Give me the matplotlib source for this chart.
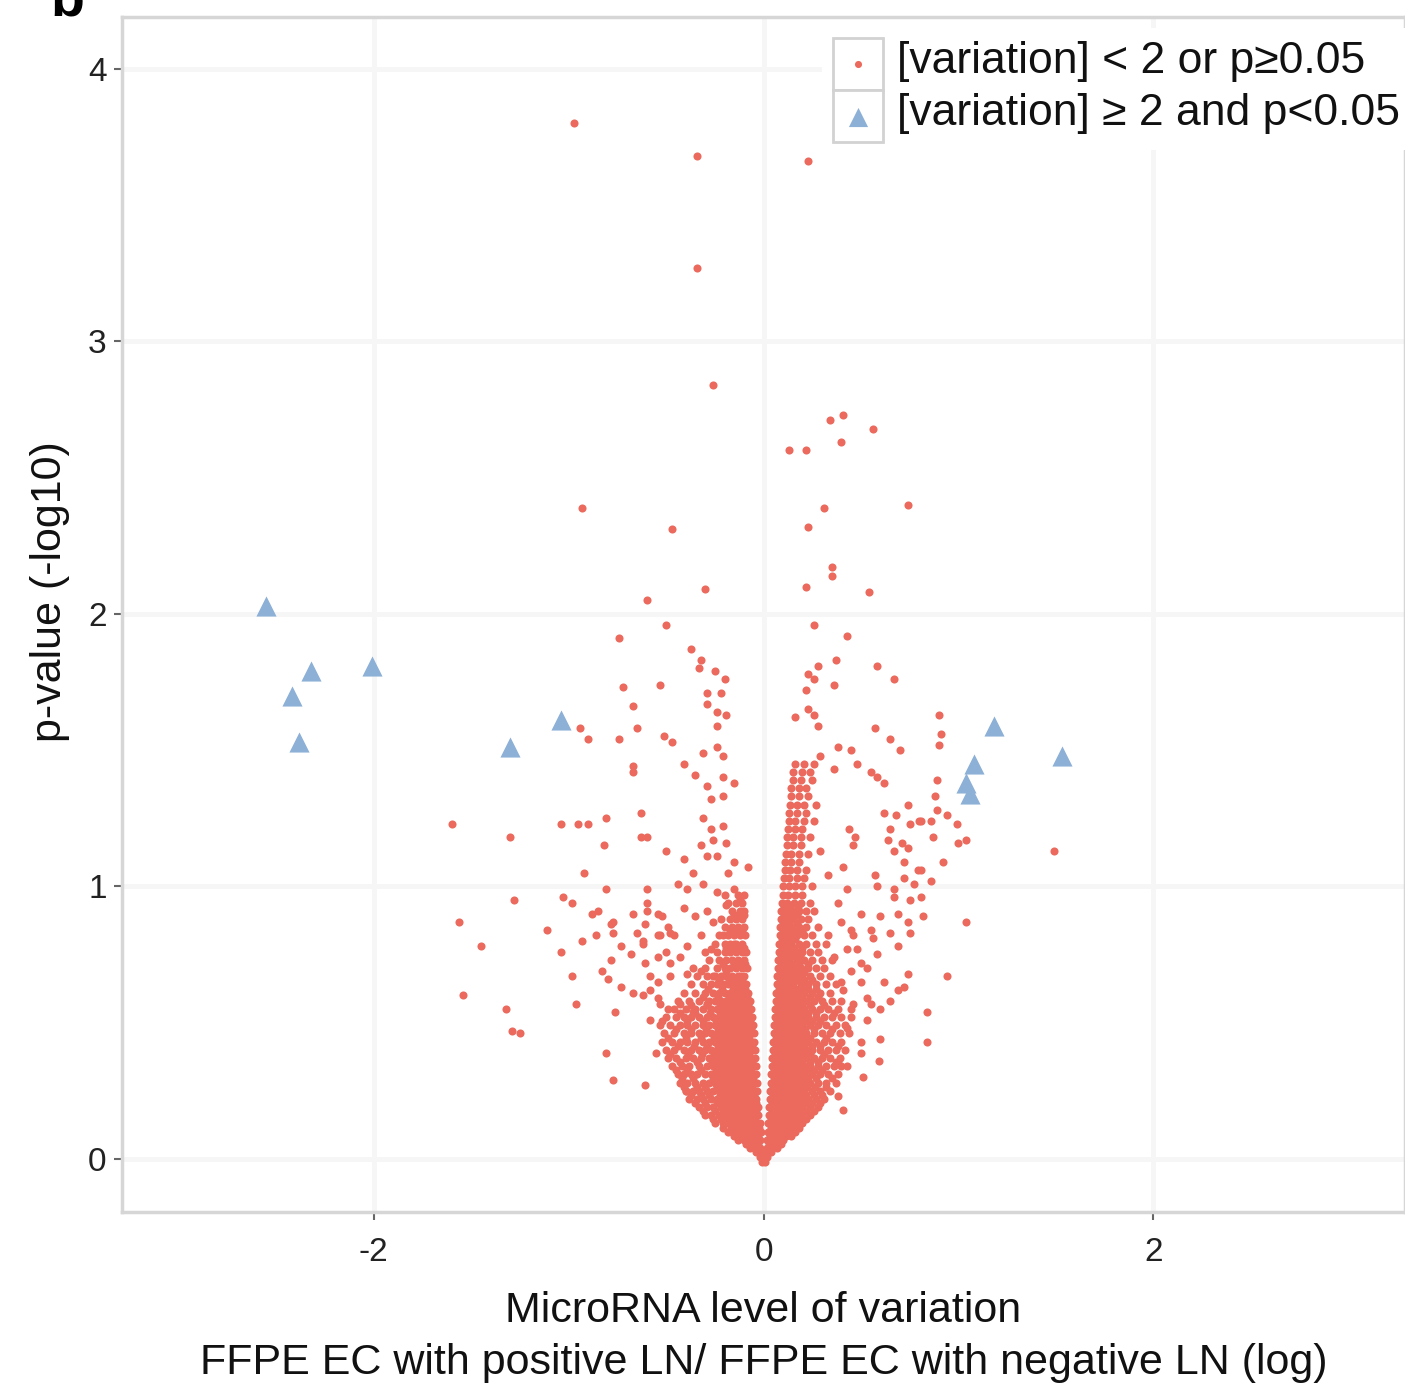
"volcano plot: FFPE EC LN+ vs LN-"
import matplotlib
matplotlib.use('Agg')
from matplotlib import pyplot as plt
from matplotlib.patches import Rectangle

plt.rcParams['font.family'] = ['Liberation Sans', 'DejaVu Sans']
plt.rcParams['axes.unicode_minus'] = False

# significant miRNAs (|variation| >= 2 and p < 0.05)
sig_x = [-2.55, -2.32, -2.42, -2.38, -2.01, -1.30, -1.04, 1.18, 1.08, 1.04, 1.06, 1.53]
sig_y = [2.03, 1.79, 1.70, 1.53, 1.81, 1.51, 1.61, 1.59, 1.45, 1.38, 1.34, 1.48]

# scattered non-significant miRNAs, read point by point
red_scatter = [
    (-0.97, 3.80), (-0.34, 3.68), (0.23, 3.66), (-0.34, 3.27), (-0.26, 2.84),
    (0.34, 2.71), (0.41, 2.73), (0.56, 2.68), (0.40, 2.63), (0.13, 2.60), (0.22, 2.60),
    (-0.93, 2.39), (-0.47, 2.31), (0.31, 2.39), (0.74, 2.40), (0.23, 2.32),
    (0.35, 2.17), (0.35, 2.14), (0.22, 2.10), (0.54, 2.08), (-0.30, 2.09), (-0.60, 2.05),
    (-0.50, 1.96), (-0.74, 1.91), (0.26, 1.96), (0.43, 1.92), (-0.37, 1.87), (-0.32, 1.83),
    (-0.33, 1.80), (-0.25, 1.79), (-0.20, 1.76), (-0.22, 1.71), (-0.29, 1.71), (-0.29, 1.67),
    (-0.24, 1.64), (-0.19, 1.63), (-0.24, 1.59), (-0.72, 1.73), (-0.53, 1.74), (-0.67, 1.66),
    (-0.65, 1.58), (-0.94, 1.58), (-0.90, 1.54), (-0.74, 1.54), (-0.51, 1.55), (-0.47, 1.53),
    (-0.31, 1.49), (-0.24, 1.51), (-0.21, 1.48), (-0.41, 1.45), (-0.67, 1.44),
    (0.37, 1.83), (0.28, 1.81), (0.23, 1.78), (0.26, 1.76), (0.22, 1.72), (0.36, 1.74),
    (0.58, 1.81), (0.67, 1.76), (0.16, 1.62), (0.23, 1.65), (0.26, 1.63), (0.28, 1.59),
    (0.57, 1.58), (0.65, 1.54), (0.70, 1.50), (0.90, 1.63), (0.91, 1.56), (0.90, 1.52),
    (0.38, 1.51), (0.45, 1.50), (0.29, 1.48), (0.48, 1.45),
    (1.49, 1.13), (1.04, 0.87), (0.94, 0.67), (0.84, 0.54), (0.84, 0.43), (0.60, 0.44),
    (0.59, 0.36), (0.51, 0.30), (0.50, 0.39), (0.89, 1.39), (0.88, 1.33),
    (0.55, 1.42), (0.58, 1.40), (0.62, 1.38), (0.74, 1.30), (0.62, 1.27), (0.68, 1.26),
    (0.65, 1.21), (0.75, 1.23), (0.81, 1.24), (0.86, 1.24), (0.89, 1.28), (0.94, 1.26),
    (0.99, 1.23), (0.44, 1.21), (0.47, 1.18), (0.64, 1.17), (0.71, 1.16), (0.74, 1.14),
    (0.67, 1.13), (0.87, 1.18), (1.00, 1.16), (1.04, 1.17), (0.92, 1.09), (0.72, 1.09),
    (0.41, 1.07), (0.81, 1.06), (0.57, 1.04), (0.72, 1.03), (0.77, 1.01), (0.86, 1.02),
    (0.58, 1.00), (0.43, 0.99), (0.67, 0.96), (0.81, 0.96), (0.50, 0.90), (0.60, 0.89),
    (0.69, 0.90), (0.82, 0.89), (0.74, 0.87), (0.45, 0.84), (0.56, 0.81), (0.65, 0.83),
    (0.75, 0.83), (0.69, 0.78), (0.48, 0.77), (0.58, 0.75), (0.45, 0.69), (0.53, 0.70),
    (0.74, 0.68), (0.72, 0.63), (0.62, 0.65), (0.50, 0.65), (0.41, 0.62), (0.53, 0.59),
    (0.65, 0.58), (0.45, 0.55), (0.53, 0.51), (0.43, 0.48), (0.50, 0.43),
    (0.26, 1.45), (0.36, 1.43), (0.80, 1.24), (0.46, 1.15), (0.33, 1.04), (0.29, 1.13),
    (0.38, 0.94), (0.67, 0.99), (0.79, 1.06), (0.75, 0.95), (0.55, 0.84), (0.46, 0.82),
    (0.40, 0.87), (0.33, 0.82), (0.43, 0.77), (0.36, 0.74), (0.50, 0.72), (0.69, 0.62),
    (0.40, 0.65), (0.46, 0.57), (0.55, 0.57), (0.60, 0.55), (0.41, 0.18), (0.38, 0.23),
    (0.43, 0.34), (0.38, 0.35),
    (-1.60, 1.23), (-1.30, 1.18), (-1.04, 1.23), (-0.95, 1.23), (-0.90, 1.23), (-0.81, 1.25),
    (-0.67, 1.42), (-0.63, 1.27), (-0.63, 1.18), (-0.60, 1.18), (-0.82, 1.15), (-0.50, 1.13),
    (-0.92, 1.05), (-0.81, 0.99), (-0.60, 0.99), (-1.28, 0.95), (-1.03, 0.96), (-0.98, 0.94),
    (-0.88, 0.90), (-0.85, 0.91), (-1.56, 0.87), (-1.11, 0.84), (-0.86, 0.82), (-0.93, 0.80),
    (-1.45, 0.78), (-1.04, 0.76), (-0.78, 0.86), (-0.77, 0.83), (-0.73, 0.78), (-0.68, 0.75),
    (-0.78, 0.73), (-0.67, 0.90), (-0.60, 0.91), (-0.61, 0.86), (-0.65, 0.83), (-0.62, 0.79),
    (-0.52, 0.89), (-0.48, 0.83), (-0.53, 0.82), (-0.50, 0.76), (-0.98, 0.67), (-0.83, 0.69),
    (-0.80, 0.66), (-0.73, 0.63), (-0.67, 0.61), (-0.62, 0.60), (-0.58, 0.67), (-0.54, 0.65),
    (-1.54, 0.60), (-0.96, 0.57), (-0.76, 0.54), (-1.32, 0.55), (-1.29, 0.47), (-1.25, 0.46),
    (-0.81, 0.39), (-0.77, 0.29), (-0.61, 0.27), (-0.55, 0.39), (-0.58, 0.51), (-0.53, 0.57),
    (-0.35, 1.41), (-0.29, 1.37), (-0.21, 1.40), (-0.15, 1.38), (-0.27, 1.32), (-0.21, 1.33),
    (-0.31, 1.25), (-0.27, 1.21), (-0.21, 1.22), (-0.32, 1.15), (-0.26, 1.17), (-0.19, 1.16),
    (-0.29, 1.11), (-0.41, 1.10), (-0.24, 1.11), (-0.15, 1.09), (-0.08, 1.07), (-0.36, 1.05),
    (-0.18, 1.05), (-0.44, 1.01), (-0.39, 0.99), (-0.31, 1.01), (-0.24, 0.98), (-0.15, 0.99),
    (-0.12, 0.95), (-0.77, 0.87), (-0.60, 0.94), (-0.54, 0.90), (-0.49, 0.85), (-0.41, 0.92),
    (-0.35, 0.89), (-0.29, 0.91), (-0.26, 0.87), (-0.19, 0.93), (-0.13, 0.89), (-0.62, 0.80),
    (-0.54, 0.82), (-0.46, 0.82), (-0.39, 0.78), (-0.32, 0.82), (-0.27, 0.77), (-0.21, 0.82),
    (-0.15, 0.79), (-0.61, 0.72), (-0.54, 0.74), (-0.48, 0.72), (-0.43, 0.74), (-0.58, 0.62),
    (-0.48, 0.67), (-0.39, 0.68), (-0.32, 0.69), (-0.26, 0.67), (-0.19, 0.69), (-0.12, 0.67),
    (-0.54, 0.59), (-0.49, 0.55), (-0.43, 0.57), (-0.36, 0.54), (-0.29, 0.57), (-0.22, 0.55),
    (-0.15, 0.57), (-0.09, 0.56), (-0.40, 0.25),
]

# dense V core, read row by row: (p-value row, variation values)
left_arm_rows = [
    (-0.01, [-0.01, 0.01]),
    (0.005, [-0.02, 0.0, 0.02]),
    (0.025, [-0.04, -0.02, 0.0]),
    (0.04, [-0.07, -0.045, -0.02]),
    (0.07, [-0.13, -0.10, -0.07, -0.045, -0.02]),
    (0.10, [-0.18, -0.15, -0.12, -0.09, -0.06, -0.035, -0.015]),
    (0.13, [-0.25, -0.21, -0.18, -0.15, -0.12, -0.09, -0.06, -0.04, -0.02]),
    (0.16, [-0.30, -0.27, -0.23, -0.20, -0.17, -0.14, -0.11, -0.08, -0.055, -0.03]),
    (0.19, [-0.33, -0.29, -0.26, -0.22, -0.19, -0.16, -0.13, -0.10, -0.075, -0.05, -0.03]),
    (0.22, [-0.38, -0.34, -0.31, -0.27, -0.24, -0.21, -0.18, -0.15, -0.12, -0.09, -0.065, -0.04]),
    (0.25, [-0.40, -0.36, -0.33, -0.29, -0.26, -0.23, -0.20, -0.17, -0.14, -0.11, -0.08, -0.055, -0.035]),
    (0.28, [-0.43, -0.39, -0.35, -0.31, -0.28, -0.25, -0.22, -0.19, -0.16, -0.13, -0.10, -0.075, -0.05, -0.035]),
    (0.31, [-0.44, -0.41, -0.37, -0.34, -0.30, -0.27, -0.24, -0.21, -0.18, -0.15, -0.12, -0.09, -0.065, -0.04]),
    (0.34, [-0.47, -0.42, -0.38, -0.33, -0.29, -0.26, -0.23, -0.20, -0.17, -0.14, -0.11, -0.08, -0.055, -0.04]),
    (0.37, [-0.49, -0.45, -0.40, -0.36, -0.32, -0.28, -0.25, -0.22, -0.19, -0.16, -0.13, -0.10, -0.07, -0.045]),
    (0.40, [-0.50, -0.46, -0.41, -0.37, -0.33, -0.30, -0.27, -0.24, -0.21, -0.18, -0.15, -0.12, -0.09, -0.06, -0.045]),
    (0.43, [-0.52, -0.47, -0.43, -0.39, -0.35, -0.31, -0.28, -0.25, -0.22, -0.19, -0.16, -0.13, -0.10, -0.075, -0.05]),
    (0.46, [-0.51, -0.46, -0.41, -0.37, -0.33, -0.30, -0.27, -0.24, -0.21, -0.18, -0.15, -0.12, -0.09, -0.065, -0.05]),
    (0.49, [-0.53, -0.48, -0.43, -0.39, -0.35, -0.31, -0.28, -0.25, -0.22, -0.19, -0.16, -0.13, -0.10, -0.075, -0.055]),
    (0.52, [-0.50, -0.45, -0.41, -0.37, -0.33, -0.29, -0.26, -0.23, -0.20, -0.17, -0.14, -0.11, -0.085, -0.06]),
    (0.55, [-0.46, -0.40, -0.35, -0.31, -0.27, -0.24, -0.21, -0.18, -0.15, -0.12, -0.09, -0.065]),
    (0.58, [-0.44, -0.38, -0.33, -0.28, -0.25, -0.22, -0.19, -0.16, -0.13, -0.10, -0.07]),
    (0.61, [-0.41, -0.35, -0.30, -0.26, -0.23, -0.20, -0.17, -0.14, -0.11, -0.08]),
    (0.64, [-0.37, -0.31, -0.27, -0.24, -0.21, -0.18, -0.15, -0.12, -0.09]),
    (0.67, [-0.34, -0.29, -0.25, -0.22, -0.19, -0.16, -0.13, -0.10]),
    (0.70, [-0.36, -0.30, -0.24, -0.20, -0.17, -0.14, -0.11, -0.085]),
    (0.73, [-0.28, -0.23, -0.19, -0.16, -0.13, -0.10]),
    (0.76, [-0.30, -0.24, -0.20, -0.17, -0.14, -0.11, -0.09]),
    (0.79, [-0.25, -0.20, -0.17, -0.14, -0.11]),
    (0.82, [-0.23, -0.18, -0.15, -0.12, -0.095]),
    (0.85, [-0.20, -0.16, -0.13, -0.10]),
    (0.88, [-0.22, -0.17, -0.14, -0.11]),
    (0.91, [-0.16, -0.12, -0.10]),
    (0.94, [-0.18, -0.14, -0.11]),
    (0.97, [-0.20, -0.13, -0.10]),
]

# rows lying between the ones above (the core is nearly solid)
left_fill_rows = [
    (0.055, [-0.09, -0.06, -0.03]),
    (0.085, [-0.15, -0.115, -0.085, -0.055, -0.03]),
    (0.115, [-0.21, -0.165, -0.135, -0.105, -0.075, -0.05, -0.025]),
    (0.145, [-0.26, -0.22, -0.19, -0.16, -0.13, -0.10, -0.07, -0.045]),
    (0.175, [-0.31, -0.25, -0.21, -0.18, -0.15, -0.12, -0.09, -0.065, -0.04]),
    (0.205, [-0.35, -0.30, -0.24, -0.205, -0.175, -0.145, -0.115, -0.085, -0.06, -0.04]),
    (0.235, [-0.37, -0.32, -0.28, -0.225, -0.195, -0.165, -0.135, -0.105, -0.075, -0.05]),
    (0.265, [-0.41, -0.34, -0.30, -0.24, -0.205, -0.175, -0.145, -0.115, -0.09, -0.06]),
    (0.295, [-0.42, -0.36, -0.26, -0.225, -0.195, -0.165, -0.135, -0.105, -0.08, -0.055]),
    (0.325, [-0.45, -0.39, -0.32, -0.245, -0.215, -0.185, -0.155, -0.125, -0.095, -0.065]),
    (0.355, [-0.43, -0.34, -0.265, -0.235, -0.205, -0.175, -0.145, -0.115, -0.085, -0.06]),
    (0.385, [-0.48, -0.385, -0.315, -0.255, -0.225, -0.195, -0.165, -0.135, -0.105, -0.075]),
    (0.415, [-0.44, -0.355, -0.29, -0.235, -0.205, -0.175, -0.145, -0.115, -0.085, -0.06]),
    (0.445, [-0.49, -0.40, -0.32, -0.255, -0.225, -0.195, -0.165, -0.135, -0.105, -0.075]),
    (0.475, [-0.45, -0.37, -0.295, -0.235, -0.205, -0.175, -0.145, -0.115, -0.09, -0.065]),
    (0.505, [-0.52, -0.39, -0.31, -0.245, -0.215, -0.185, -0.155, -0.125, -0.095, -0.07]),
    (0.535, [-0.43, -0.35, -0.275, -0.225, -0.195, -0.165, -0.135, -0.105, -0.08]),
    (0.565, [-0.37, -0.29, -0.225, -0.195, -0.165, -0.135, -0.105, -0.08]),
    (0.595, [-0.31, -0.235, -0.175, -0.145, -0.115, -0.085]),
    (0.625, [-0.285, -0.215, -0.155, -0.125, -0.095]),
    (0.655, [-0.23, -0.175, -0.14, -0.11]),
    (0.715, [-0.21, -0.15, -0.12, -0.095]),
    (0.775, [-0.19, -0.155, -0.125, -0.10]),
    (0.835, [-0.17, -0.14, -0.11]),
    (0.895, [-0.15, -0.125, -0.10]),
]

right_arm_rows = [
    (0.025, [0.02, 0.04]),
    (0.04, [0.02, 0.045, 0.07]),
    (0.07, [0.02, 0.045, 0.07, 0.10]),
    (0.10, [0.025, 0.05, 0.075, 0.10, 0.13, 0.16]),
    (0.13, [0.025, 0.05, 0.075, 0.10, 0.13, 0.16, 0.20]),
    (0.16, [0.03, 0.055, 0.08, 0.11, 0.14, 0.17, 0.20, 0.24]),
    (0.19, [0.03, 0.055, 0.08, 0.11, 0.14, 0.17, 0.20, 0.24, 0.28]),
    (0.22, [0.035, 0.06, 0.085, 0.11, 0.14, 0.17, 0.20, 0.23, 0.27, 0.31]),
    (0.25, [0.035, 0.06, 0.09, 0.12, 0.15, 0.18, 0.21, 0.25, 0.29, 0.34]),
    (0.28, [0.04, 0.065, 0.09, 0.12, 0.15, 0.18, 0.21, 0.24, 0.28, 0.32, 0.37]),
    (0.31, [0.04, 0.065, 0.09, 0.12, 0.15, 0.18, 0.21, 0.25, 0.29, 0.33, 0.38]),
    (0.34, [0.045, 0.07, 0.095, 0.12, 0.15, 0.18, 0.21, 0.24, 0.28, 0.32, 0.36, 0.40]),
    (0.37, [0.045, 0.07, 0.10, 0.13, 0.16, 0.19, 0.22, 0.26, 0.30, 0.34, 0.39]),
    (0.40, [0.05, 0.075, 0.10, 0.13, 0.16, 0.19, 0.22, 0.25, 0.29, 0.33, 0.37, 0.42]),
    (0.43, [0.05, 0.075, 0.10, 0.13, 0.16, 0.19, 0.23, 0.27, 0.31, 0.35, 0.40]),
    (0.46, [0.055, 0.08, 0.105, 0.13, 0.16, 0.19, 0.22, 0.26, 0.30, 0.34, 0.39, 0.44]),
    (0.49, [0.055, 0.08, 0.11, 0.14, 0.17, 0.20, 0.24, 0.28, 0.32, 0.37, 0.42]),
    (0.52, [0.06, 0.085, 0.11, 0.14, 0.17, 0.20, 0.23, 0.27, 0.31, 0.35, 0.40, 0.45]),
    (0.55, [0.06, 0.085, 0.11, 0.14, 0.17, 0.21, 0.25, 0.29, 0.33, 0.38]),
    (0.58, [0.065, 0.09, 0.12, 0.15, 0.18, 0.22, 0.26, 0.30, 0.35, 0.40]),
    (0.61, [0.065, 0.09, 0.12, 0.15, 0.18, 0.21, 0.25, 0.29, 0.34]),
    (0.64, [0.07, 0.095, 0.12, 0.15, 0.19, 0.23, 0.27, 0.32, 0.37]),
    (0.67, [0.07, 0.095, 0.125, 0.16, 0.20, 0.24, 0.29, 0.34]),
    (0.70, [0.075, 0.10, 0.13, 0.16, 0.19, 0.23, 0.27, 0.31]),
    (0.73, [0.075, 0.10, 0.13, 0.17, 0.21, 0.25, 0.30, 0.35]),
    (0.76, [0.08, 0.105, 0.135, 0.17, 0.20, 0.24, 0.28]),
    (0.79, [0.08, 0.105, 0.14, 0.18, 0.22, 0.27, 0.32]),
    (0.82, [0.085, 0.11, 0.14, 0.17, 0.21, 0.25]),
    (0.85, [0.085, 0.11, 0.145, 0.18, 0.22, 0.28]),
    (0.88, [0.09, 0.115, 0.15, 0.19, 0.23]),
    (0.91, [0.09, 0.12, 0.15, 0.18, 0.22, 0.26]),
    (0.94, [0.095, 0.12, 0.155, 0.19, 0.24]),
    (0.97, [0.10, 0.125, 0.16, 0.20]),
    (1.00, [0.10, 0.13, 0.16, 0.20, 0.25]),
    (1.03, [0.105, 0.13, 0.17, 0.21]),
    (1.06, [0.11, 0.135, 0.17, 0.22]),
    (1.09, [0.11, 0.14, 0.18]),
    (1.12, [0.115, 0.14, 0.18, 0.23]),
    (1.15, [0.12, 0.15, 0.19]),
    (1.18, [0.12, 0.15, 0.19, 0.24]),
    (1.21, [0.125, 0.16, 0.20]),
    (1.24, [0.13, 0.16, 0.21, 0.26]),
    (1.27, [0.13, 0.17, 0.22]),
    (1.30, [0.135, 0.17, 0.21, 0.27]),
    (1.33, [0.14, 0.18, 0.23]),
    (1.36, [0.14, 0.18, 0.22]),
    (1.39, [0.15, 0.19, 0.25]),
    (1.42, [0.15, 0.20, 0.24]),
    (1.45, [0.16, 0.21]),
]

right_fill_rows = [
    (0.055, [0.03, 0.06, 0.09]),
    (0.085, [0.035, 0.06, 0.085, 0.115, 0.14]),
    (0.115, [0.04, 0.065, 0.09, 0.115, 0.145, 0.18]),
    (0.145, [0.04, 0.065, 0.09, 0.12, 0.15, 0.185, 0.22]),
    (0.175, [0.045, 0.07, 0.095, 0.125, 0.155, 0.185, 0.22, 0.26]),
    (0.205, [0.045, 0.07, 0.10, 0.125, 0.155, 0.185, 0.215, 0.25, 0.29]),
    (0.235, [0.05, 0.075, 0.10, 0.13, 0.16, 0.19, 0.22, 0.26, 0.30]),
    (0.265, [0.05, 0.075, 0.105, 0.135, 0.165, 0.195, 0.225, 0.265, 0.32]),
    (0.295, [0.055, 0.08, 0.105, 0.135, 0.165, 0.195, 0.23, 0.27, 0.35]),
    (0.325, [0.055, 0.08, 0.11, 0.135, 0.165, 0.195, 0.23, 0.26, 0.30]),
    (0.355, [0.06, 0.085, 0.11, 0.14, 0.17, 0.20, 0.24, 0.28, 0.37]),
    (0.385, [0.06, 0.085, 0.115, 0.145, 0.175, 0.205, 0.24, 0.31]),
    (0.415, [0.065, 0.09, 0.115, 0.145, 0.175, 0.21, 0.25, 0.29, 0.38]),
    (0.445, [0.065, 0.09, 0.12, 0.145, 0.175, 0.205, 0.24, 0.32]),
    (0.475, [0.07, 0.095, 0.12, 0.15, 0.18, 0.215, 0.26, 0.35]),
    (0.505, [0.07, 0.095, 0.125, 0.155, 0.185, 0.215, 0.25, 0.29]),
    (0.535, [0.075, 0.10, 0.125, 0.155, 0.19, 0.23, 0.27, 0.36]),
    (0.565, [0.075, 0.10, 0.13, 0.16, 0.195, 0.24, 0.31]),
    (0.595, [0.08, 0.105, 0.135, 0.165, 0.20, 0.24, 0.28]),
    (0.625, [0.08, 0.105, 0.135, 0.165, 0.195, 0.23, 0.27]),
    (0.655, [0.085, 0.11, 0.14, 0.17, 0.21, 0.25]),
    (0.685, [0.085, 0.11, 0.14, 0.175, 0.21]),
    (0.715, [0.09, 0.115, 0.145, 0.18, 0.23]),
    (0.745, [0.09, 0.12, 0.15, 0.185]),
    (0.775, [0.095, 0.12, 0.155, 0.20]),
    (0.805, [0.095, 0.125, 0.16]),
    (0.835, [0.10, 0.125, 0.16, 0.20]),
    (0.865, [0.10, 0.13, 0.17]),
    (0.895, [0.105, 0.135, 0.17]),
    (0.925, [0.105, 0.135, 0.175]),
]

legend_labels = ["[variation] < 2 or p\u22650.05", "[variation] \u2265 2 and p<0.05"]
red = '#EB6A5D'
blue = '#8DB0D7'

red_x = [p[0] for p in red_scatter]
red_y = [p[1] for p in red_scatter]
for y, xs in left_arm_rows + left_fill_rows + right_arm_rows + right_fill_rows:
    red_x += xs
    red_y += [y] * len(xs)

fig = plt.figure(figsize=(14.05, 13.88), dpi=100)
W, H = 1405, 1388
ax = fig.add_axes([122 / W, 176 / H, 1283 / W, 1195 / H])

ax.scatter(red_x, red_y, s=34, color=red, linewidths=0, zorder=2)
ax.scatter(sig_x, sig_y, s=210, marker='^', color=blue, linewidths=0, zorder=3)

ax.set_xlim(-3.29, 3.29)
ax.set_ylim(-0.195, 4.19)
ax.set_xticks([-2, 0, 2])
ax.set_yticks([0, 1, 2, 3, 4])
ax.grid(True, color='#f6f6f6', linewidth=3.5)
ax.set_axisbelow(True)
for sp in ax.spines.values():
    sp.set_color('#d6d6d6')
    sp.set_linewidth(2.5)
ax.tick_params(length=6, width=1.5, color='#666666', labelsize=24, labelcolor='#222222')
ax.tick_params(axis='x', pad=12)
ax.tick_params(axis='y', pad=5)

ax.set_xlabel("MicroRNA level of variation\nFFPE EC with positive LN/ FFPE EC with negative LN (log)",
              fontsize=31, linespacing=1.38, va='center', color='#111111')
ax.xaxis.set_label_coords(0.5, -0.1045)
ax.set_ylabel("p-value (-log10)", fontsize=31, va='center', ha='center', color='#111111')
ax.yaxis.set_label_coords(-0.056, 0.519)

# legend drawn like the ggplot keys
ax.add_patch(Rectangle((0.5456, 0.889), 0.46, 0.102, transform=ax.transAxes,
                       facecolor='white', edgecolor='none', zorder=4, clip_on=False))
key_tops = [0.9824, 0.9389]
for i, lab in enumerate(legend_labels):
    ax.add_patch(Rectangle((0.554, key_tops[i] - 0.0435), 0.039, 0.0435, transform=ax.transAxes,
                           facecolor='white', edgecolor='#d2d2d2', lw=2, zorder=5))
    ax.text(0.604, key_tops[i] - 0.0195, lab, transform=ax.transAxes, fontsize=32,
            va='center', ha='left', color='#111111', zorder=6)
ax.scatter([0.5737], [0.9607], s=26, color=red, linewidths=0, transform=ax.transAxes, zorder=6)
ax.scatter([0.5737], [0.9163], s=190, marker='^', color=blue, linewidths=0,
           transform=ax.transAxes, zorder=6)

fig.text(50 / W, 1 - 15 / H, 'b', fontsize=40, fontweight='bold', va='baseline', ha='left')

plt.savefig('out.png', dpi=100)
